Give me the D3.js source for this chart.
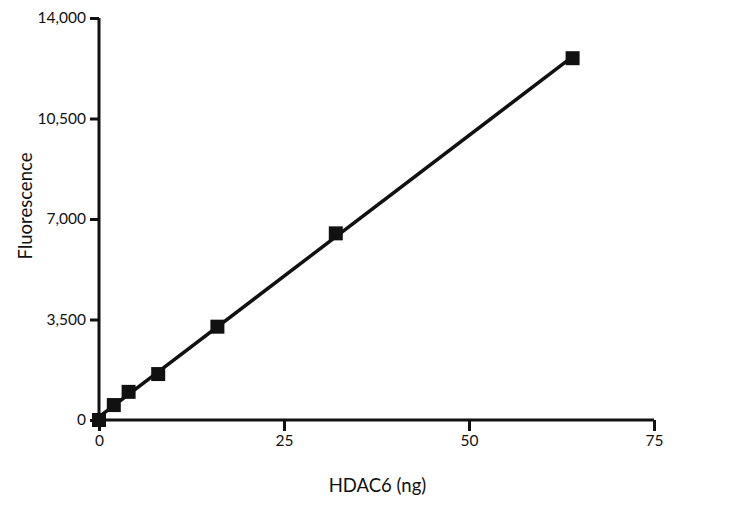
<!DOCTYPE html>
<html>
<head>
<meta charset="utf-8">
<script src="https://cdn.jsdelivr.net/npm/d3@7"></script>
<style>
  body { margin: 0; background: #fff; }
  text { font-family: Lato, "Open Sans", sans-serif; fill: #111; }
</style>
</head>
<body>
<svg id="chart" width="732" height="505"></svg>
<script>
// HDAC6 amount (ng) vs fluorescence
const amounts = [0, 2, 4, 8, 16, 32, 64];
const fluorescence = [0, 520, 980, 1600, 3250, 6500, 12600];
const xTicks = [0, 25, 50, 75];
const yTicks = [0, 3500, 7000, 10500, 14000];

const svg = d3.select("#chart");
const margin = { top: 18, right: 78, bottom: 85, left: 99 };
const width = 732 - margin.left - margin.right;
const height = 505 - margin.top - margin.bottom;

const g = svg.append("g")
  .attr("transform", "translate(" + margin.left + "," + margin.top + ")");

const x = d3.scaleLinear().domain([0, 75]).range([0, width]);
const y = d3.scaleLinear().domain([0, 14000]).range([height, 0]);

// axes
const xAxis = g.append("g")
  .attr("transform", "translate(0," + height + ")")
  .call(d3.axisBottom(x).tickValues(xTicks).tickSize(11).tickPadding(4)
    .tickFormat(d3.format("d")));

const yAxis = g.append("g")
  .call(d3.axisLeft(y).tickValues(yTicks).tickSize(9).tickPadding(4)
    .tickFormat(d3.format(",")));

[xAxis, yAxis].forEach(a => {
  a.select(".domain").attr("stroke", "#111").attr("stroke-width", 3);
  a.selectAll(".tick line").attr("stroke", "#111").attr("stroke-width", 3);
  a.selectAll(".tick text").attr("font-size", 15.5).attr("fill", "#111")
    .style("font-family", "Lato, 'Open Sans', sans-serif");
});
// plain axis lines, no outer ticks
xAxis.select(".domain").attr("d", "M0,0H" + width);
yAxis.select(".domain").attr("d", "M0," + height + "V0");

// linear fit through the points
const n = amounts.length;
const mx = d3.mean(amounts), my = d3.mean(fluorescence);
let sxy = 0, sxx = 0;
for (let i = 0; i < n; i++) {
  sxy += (amounts[i] - mx) * (fluorescence[i] - my);
  sxx += (amounts[i] - mx) * (amounts[i] - mx);
}
const slope = sxy / sxx;
const intercept = my - slope * mx;
const fitX = [0, d3.max(amounts)];

g.append("path")
  .datum(fitX)
  .attr("fill", "none")
  .attr("stroke", "#111")
  .attr("stroke-width", 3.5)
  .attr("d", d3.line().x(d => x(d)).y(d => y(Math.max(0, intercept + slope * d))));

// markers
const size = 14;
g.selectAll("rect.pt")
  .data(amounts.map((a, i) => ({ a, f: fluorescence[i] })))
  .enter().append("rect")
  .attr("class", "pt")
  .attr("x", d => x(d.a) - size / 2)
  .attr("y", d => y(d.f) - size / 2)
  .attr("width", size)
  .attr("height", size)
  .attr("fill", "#111");

// axis labels
g.append("text")
  .attr("x", width / 2 + 1)
  .attr("y", height + 72)
  .attr("text-anchor", "middle")
  .attr("font-size", 18.5)
  .text("HDAC6 (ng)");

g.append("text")
  .attr("transform", "rotate(-90)")
  .attr("x", -(height / 2) + 13)
  .attr("y", -67)
  .attr("text-anchor", "middle")
  .attr("font-size", 18.5)
  .text("Fluorescence");
</script>
</body>
</html>
